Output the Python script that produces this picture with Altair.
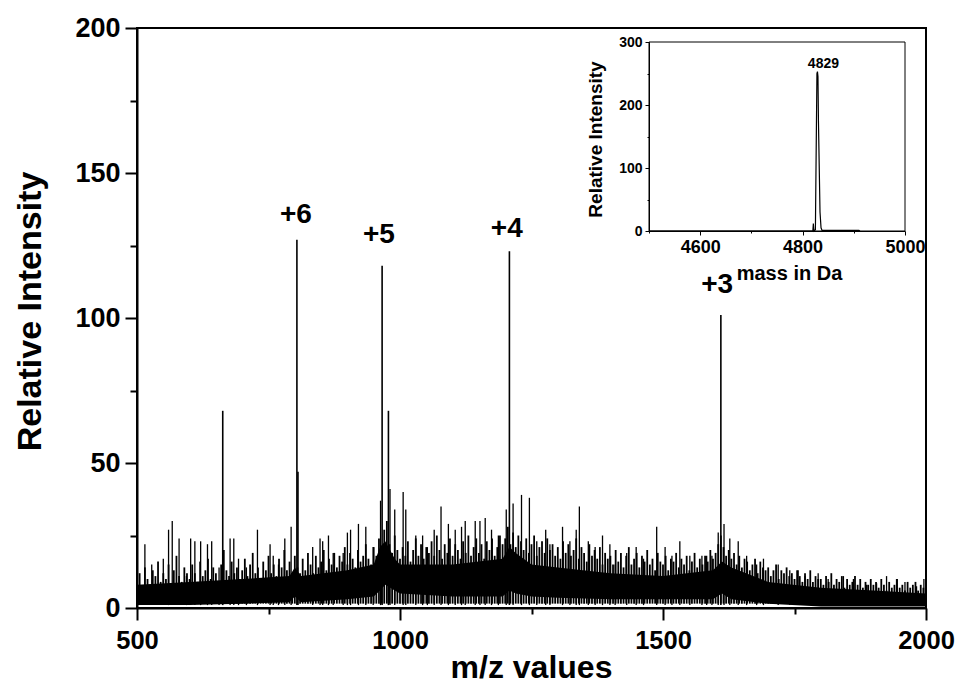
import altair as alt
import pandas as pd

# ---------------- main spectrum (m/z) ----------------
# solid core of the noise
band_mz = [500, 600, 700, 790, 800, 812, 900, 950, 962, 972, 990,
           1000, 1100, 1195, 1208, 1220, 1250, 1300, 1400,
           1500, 1595, 1612, 1630, 1700, 1800, 1900, 2000]
band_hi = [8, 9, 10, 11, 14, 11, 13, 15, 21, 23, 17,
           15, 15, 17, 21, 19, 15, 14, 12,
           11, 13, 16, 14, 9, 7, 6, 5]
band_lo = [1, 1, 1.5, 2, 4, 2, 3, 4, 6, 8, 6,
           5, 4, 4, 6, 5, 4, 3.5, 3,
           3, 3, 5, 3, 1.5, 0.5, 0.5, 0.5]

# hairy noise: heights read every 5 m/z from 500 to 2000
noise_start = 500
noise_step = 5
noise_h = [
    9, 12, 7, 14, 10, 8, 13, 11, 16, 9, 12, 10, 15, 8, 13, 18, 11, 9, 14, 12,
    10, 15, 12, 9, 16, 11, 13, 17, 10, 14, 12, 9, 15, 20, 13, 11, 16, 12, 14, 10,
    13, 17, 11, 15, 19, 12, 14, 10, 16, 13, 18, 12, 15, 11, 17, 14, 20, 13, 16, 12,
    18, 14, 12, 17, 13, 19, 15, 12, 18, 14, 16, 20, 13, 17, 15, 19, 14, 18, 16, 21,
    15, 19, 17, 14, 20, 16, 18, 22, 17, 15, 21, 18, 24, 20, 27, 30, 22, 19, 25, 20,
    17, 21, 18, 23, 16, 20, 24, 18, 22, 17, 21, 19, 23, 18, 25, 20, 17, 22, 19, 24,
    18, 22, 20, 17, 23, 19, 25, 18, 21, 24, 19, 22, 17, 23, 20, 24, 18, 21, 25, 22,
    24, 28, 22, 26, 21, 25, 23, 20, 24, 19, 22, 25, 18, 21, 23, 19, 24, 20, 22, 18,
    21, 17, 23, 19, 22, 18, 20, 24, 17, 21, 19, 16, 22, 18, 20, 17, 21, 15, 19, 17,
    18, 15, 20, 16, 19, 14, 18, 21, 15, 17, 19, 14, 18, 16, 20, 15, 17, 13, 19, 16,
    15, 18, 13, 17, 16, 19, 14, 17, 15, 18, 13, 16, 19, 14, 17, 15, 18, 16, 20, 17,
    19, 22, 25, 21, 18, 20, 17, 19, 15, 18, 14, 17, 16, 13, 15, 17, 12, 16, 14, 13,
    14, 11, 13, 15, 10, 13, 12, 14, 11, 12, 10, 13, 11, 9, 12, 10, 13, 9, 11, 10,
    10, 8, 11, 9, 12, 8, 10, 9, 11, 7, 10, 8, 9, 11, 8, 10, 7, 9, 8, 10,
    8, 9, 7, 10, 8, 6, 9, 7, 8, 10, 7, 8, 6, 9, 7, 8, 9, 6, 8, 7,
    8,
]

# taller isolated noise spikes
spike_mz = [515, 528, 550, 560, 567, 580, 594, 602, 610, 621,
            634, 642, 656, 677, 684, 693, 708, 729, 753, 759,
            769, 781, 793, 834, 848, 853, 864, 873, 892, 900,
            906, 921, 935, 949, 963, 981, 990, 1006, 1011, 1030,
            1043, 1052, 1065, 1078, 1092, 1105, 1117, 1124, 1143, 1152,
            1162, 1174, 1187, 1202, 1215, 1231, 1246, 1260, 1277, 1285,
            1309, 1323, 1335, 1341, 1358, 1371, 1385, 1399, 1409, 1431,
            1449, 1463, 1488, 1504, 1517, 1532, 1551, 1574, 1583, 1593,
            1605, 1616, 1627, 1643, 1659, 1678, 1691, 1719, 1741, 1757,
            1770, 1795, 1814, 1843, 1862, 1887, 1906, 1925, 1944, 1960,
            1982, 1996]
spike_h = [22, 15, 17, 27, 30, 24, 11, 24, 23, 23,
           22, 23, 14, 24, 24, 17, 14, 27, 22, 18,
           15, 24, 28, 21, 24, 23, 25, 19, 19, 26,
           27, 29, 28, 21, 37, 41, 34, 40, 34, 25,
           25, 21, 27, 35, 29, 27, 28, 30, 30, 30,
           31, 27, 25, 34, 36, 39, 38, 23, 27, 22,
           28, 23, 27, 35, 23, 21, 25, 22, 15, 19,
           21, 17, 28, 21, 18, 23, 18, 18, 18, 18,
           26, 29, 24, 23, 18, 15, 17, 15, 13, 13,
           11, 12, 10, 11, 10, 8, 8.5, 11, 10, 9,
           7.5, 10]

peak_mz = [663, 804, 806, 966, 978, 1208, 1610]
peak_h = [68, 127, 47, 118, 68, 123, 101]

label_text = ["+6", "+5", "+4", "+3"]
label_mz = [802, 960, 1203, 1603]
label_y = [132.8, 125.9, 127.9, 108.6]

x_ticks = [500, 750, 1000, 1250, 1500, 1750, 2000]
y_ticks = [0, 25, 50, 75, 100, 125, 150, 175, 200]

# ---------------- inset (deconvoluted mass) ----------------
inset_mass = [4500, 4815, 4820, 4821, 4822, 4825, 4828, 4829, 4830, 4831, 4834, 4836, 4838, 4910, 4912]
inset_int = [0, 0, 0, 12, 0, 2, 250, 253, 245, 172, 30, 5, 1, 1, 0]
inset_label = ["4829"]
inset_label_mass = [4829]
inset_label_y = [259]
inset_x_ticks = [4500, 4600, 4700, 4800, 4900, 5000]
inset_y_ticks = [0, 50, 100, 150, 200, 250, 300]

FONT = "Liberation Sans"

band_df = pd.DataFrame({"mz": band_mz, "lo": band_lo, "hi": band_hi})
noise_df = pd.DataFrame({
    "mz": [noise_start + noise_step * i for i in range(len(noise_h))],
    "h": noise_h,
    "base": [1.5] * len(noise_h),
})
spike_df = pd.DataFrame({"mz": spike_mz, "h": spike_h, "base": [1.0] * len(spike_mz)})
peak_df = pd.DataFrame({"mz": peak_mz, "h": peak_h, "base": [1.0] * len(peak_mz)})
label_df = pd.DataFrame({"t": label_text, "mz": label_mz, "y": label_y})
inset_df = pd.DataFrame({"mass": inset_mass, "inten": inset_int})
inset_lab_df = pd.DataFrame({"t": inset_label, "mass": inset_label_mass, "y": inset_label_y})
frame_df = pd.DataFrame({"x0": [inset_x_ticks[0]], "x1": [inset_x_ticks[-1]],
                         "y0": [inset_y_ticks[0]], "y1": [inset_y_ticks[-1]]})

xs = alt.Scale(domain=[500, 2000], nice=False, zero=False)
ys = alt.Scale(domain=[0, 200], nice=False, zero=False)

x_axis = alt.Axis(
    values=x_ticks, format="d", title="m/z values",
    labelExpr="datum.value % 500 == 0 ? datum.label : ''",
    tickSize={"condition": {"test": "datum.value % 500 == 0", "value": 12}, "value": 6},
    labelPadding=8, labelFontSize=25.5, labelFont=FONT, labelFontWeight="bold", labelColor="black",
    labelFlush=False, labelOverlap=False,
    domainColor="black", domainWidth=2, tickColor="black", tickWidth=2, grid=False,
    titleFont=FONT, titleFontSize=32, titleFontWeight="bold", titleColor="black",
    titleX=394, titleY=69, titleBaseline="alphabetic", titleAlign="center",
)
y_axis = alt.Axis(
    values=y_ticks, format="d", title="Relative Intensity",
    labelExpr="datum.value % 50 == 0 ? datum.label : ''",
    tickSize={"condition": {"test": "datum.value % 50 == 0", "value": 12}, "value": 7},
    labelPadding=5, labelFontSize=27, labelFont=FONT, labelFontWeight="bold", labelColor="black",
    labelFlush=False, labelOverlap=False,
    domainColor="black", domainWidth=2, tickColor="black", tickWidth=2, grid=False,
    titleFont=FONT, titleFontSize=34, titleFontWeight="bold", titleColor="black",
    titleX=-107, titleY=283, titleBaseline="middle", titleAlign="center", titleAngle=270,
)

band = alt.Chart(band_df).mark_area(color="black", opacity=1).encode(
    x=alt.X("mz:Q", scale=xs, axis=x_axis),
    y=alt.Y("lo:Q", scale=ys, axis=y_axis),
    y2="hi:Q",
)
noise = alt.Chart(noise_df).mark_rule(color="black", strokeWidth=1.8).encode(
    x=alt.X("mz:Q", scale=xs), y=alt.Y("base:Q", scale=ys), y2="h:Q"
)
spikes = alt.Chart(spike_df).mark_rule(color="black", strokeWidth=1.3).encode(
    x=alt.X("mz:Q", scale=xs), y=alt.Y("base:Q", scale=ys), y2="h:Q"
)
peaks = alt.Chart(peak_df).mark_rule(color="black", strokeWidth=1.6).encode(
    x=alt.X("mz:Q", scale=xs), y=alt.Y("base:Q", scale=ys), y2="h:Q"
)
labels = alt.Chart(label_df).mark_text(
    font=FONT, fontSize=28, fontWeight="bold", color="black", align="center", baseline="alphabetic"
).encode(x=alt.X("mz:Q", scale=xs), y=alt.Y("y:Q", scale=ys), text="t:N")

main = alt.layer(band, noise, spikes, peaks, labels)

# inset occupies plot-area pixels x 512..768, y 14..203
ixs = alt.Scale(domain=[4500, 5000], range=[512, 768], nice=False, zero=False)
iys = alt.Scale(domain=[0, 300], range=[203, 14], nice=False, zero=False)

ix_axis = alt.Axis(
    orient="bottom", offset=-377, values=inset_x_ticks, format="d", title="mass in Da",
    labelExpr="datum.value % 200 == 0 && datum.value > 4500 ? datum.label : ''",
    tickSize={"condition": {"test": "datum.value % 200 == 0", "value": 4}, "value": 2},
    labelPadding=3, labelFontSize=18, labelFont=FONT, labelFontWeight="bold", labelColor="black",
    labelFlush=False, labelOverlap=False,
    domainColor="black", domainWidth=1, tickColor="black", tickWidth=1, grid=False,
    titleFont=FONT, titleFontSize=20, titleFontWeight="bold", titleColor="black",
    titleX=652, titleY=48, titleBaseline="alphabetic", titleAlign="center",
)
iy_axis = alt.Axis(
    orient="left", offset=-512, values=inset_y_ticks, format="d", title="Relative Intensity",
    labelExpr="datum.value % 100 == 0 ? datum.label : ''",
    tickSize={"condition": {"test": "datum.value % 100 == 0", "value": 4}, "value": 2},
    labelPadding=3, labelFontSize=14, labelFont=FONT, labelFontWeight="bold", labelColor="black",
    labelFlush=False, labelOverlap=False,
    domainColor="black", domainWidth=1, tickColor="black", tickWidth=1, grid=False,
    titleFont=FONT, titleFontSize=19, titleFontWeight="bold", titleColor="black",
    titleX=-54, titleY=111, titleBaseline="middle", titleAlign="center", titleAngle=270,
)

inset_frame = alt.Chart(frame_df).mark_rect(fillOpacity=0, stroke="black", strokeWidth=1).encode(
    x=alt.X("x0:Q", scale=ixs, axis=ix_axis), x2="x1:Q",
    y=alt.Y("y0:Q", scale=iys, axis=iy_axis), y2="y1:Q",
)
inset_line = alt.Chart(inset_df).mark_line(color="black", strokeWidth=1.2).encode(
    x=alt.X("mass:Q", scale=ixs), y=alt.Y("inten:Q", scale=iys)
)
inset_text = alt.Chart(inset_lab_df).mark_text(
    font=FONT, fontSize=14, fontWeight="bold", color="black", align="center",
    baseline="alphabetic", dx=6
).encode(x=alt.X("mass:Q", scale=ixs), y=alt.Y("y:Q", scale=iys), text="t:N")

inset = alt.layer(inset_frame, inset_line, inset_text)

chart = alt.layer(main, inset).resolve_scale(x="independent", y="independent").properties(
    width=789, height=580,
    padding={"left": 129, "top": 20, "right": 29, "bottom": 77},
    autosize=alt.AutoSizeParams(type="none"),
    background="white",
).configure_view(stroke="black", strokeWidth=2)

chart.save("out.html", embed_options={"renderer": "svg", "actions": False})
